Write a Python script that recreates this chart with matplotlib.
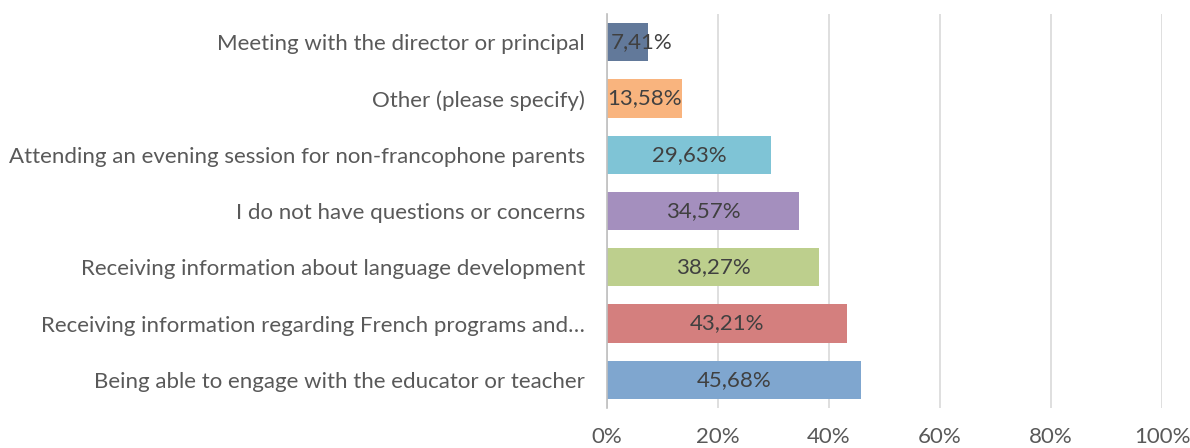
import matplotlib
matplotlib.use("Agg")
import matplotlib.pyplot as plt
from matplotlib.ticker import FuncFormatter

categories = [
    "Being able to engage with the educator or teacher",
    "Receiving information regarding French programs and…",
    "Receiving information about language development",
    "I do not have questions or concerns",
    "Attending an evening session for non-francophone parents",
    "Other (please specify)",
    "Meeting with the director or principal",
]
values = [45.68, 43.21, 38.27, 34.57, 29.63, 13.58, 7.41]
colors = ["#7FA6CF", "#D47F7E", "#BDCF8D", "#A48FBE", "#7FC4D6", "#F9B47E", "#62799A"]
xticks = [0, 20, 40, 60, 80, 100]

plt.rcParams['font.family'] = ['Lato', 'DejaVu Sans']

fig = plt.figure(figsize=(11.9, 4.48), dpi=100)
ax = fig.add_axes([607/1190, 1 - 408/448, (1162-607)/1190, (408-14)/448])

y = list(range(len(categories)))
ax.barh(y, values, height=0.68, color=colors, zorder=2)
for yi, v in zip(y, values):
    ax.text(v / 2 if v > 10 else v / 2 + 2.5, yi, f"{v:.2f}%".replace(".", ","),
            ha="center", va="center", fontsize=16, color="#404040", zorder=3)

ax.set_xlim(0, 100)
ax.set_ylim(-0.5, len(categories) - 0.5)
ax.set_xticks(xticks)
ax.xaxis.set_major_formatter(FuncFormatter(lambda v, p: f"{int(v)}%"))
ax.set_yticks(y)
ax.set_yticklabels(categories)
ax.tick_params(axis="x", length=0, pad=14, labelsize=16, labelcolor="#595959")
ax.tick_params(axis="y", length=0, pad=16, labelsize=16, labelcolor="#595959")
ax.grid(axis="x", color="#D9D9D9", linewidth=1.2, zorder=0)
for s in ["top", "right", "bottom"]:
    ax.spines[s].set_visible(False)
ax.spines["left"].set_color("#BFBFBF")
ax.spines["left"].set_linewidth(1.2)
ax.spines["left"].set_zorder(3)

fig.savefig("out.png", dpi=100)
